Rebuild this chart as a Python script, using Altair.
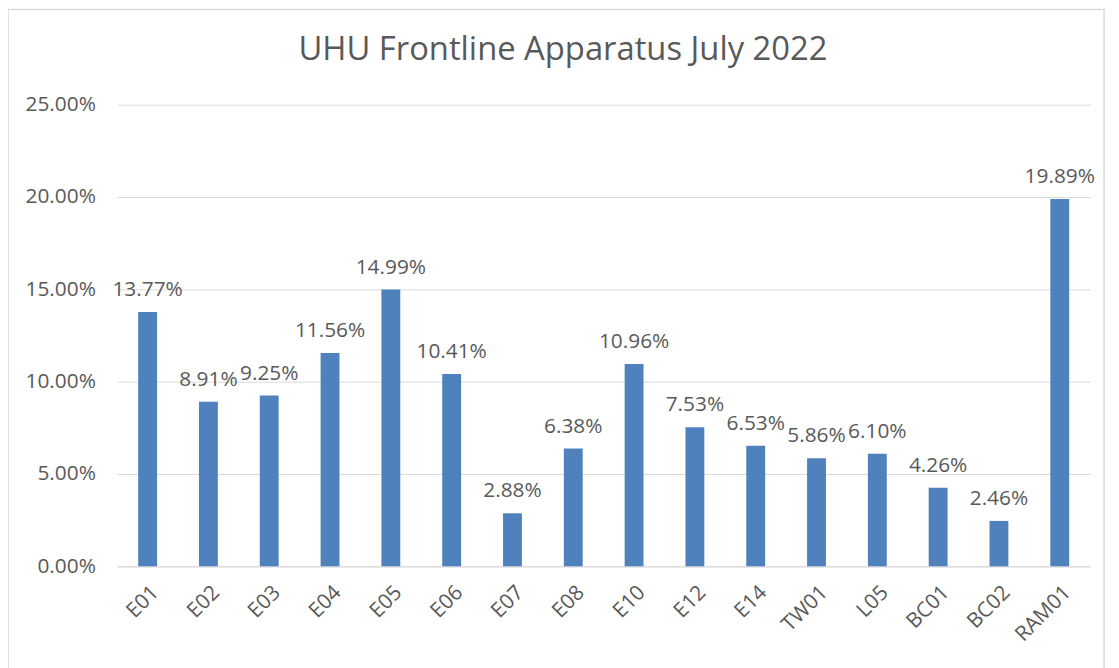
import altair as alt
import pandas as pd

categories = ["E01", "E02", "E03", "E04", "E05", "E06", "E07", "E08", "E10", "E12",
              "E14", "TW01", "L05", "BC01", "BC02", "RAM01"]
values = [0.1377, 0.0891, 0.0925, 0.1156, 0.1499, 0.1041, 0.0288, 0.0638, 0.1096, 0.0753,
          0.0653, 0.0586, 0.0610, 0.0426, 0.0246, 0.1989]
y_ticks = [0, 0.05, 0.10, 0.15, 0.20, 0.25]
title_text = "UHU Frontline Apparatus July 2022"

df = pd.DataFrame({"cat": categories, "val": values})

FONT = "Open Sans"
TXT = "#595959"
GRID = "#D9D9D9"
BAR = "#4F81BD"

x_enc = alt.X("cat:N", sort=categories, title=None,
              scale=alt.Scale(paddingInner=0, paddingOuter=0),
              axis=alt.Axis(labelAngle=-45, labelFontSize=21, labelColor=TXT, labelFont=FONT,
                            domainColor=GRID, domainWidth=1, ticks=False, labelPadding=23,
                            labelOffset=8, labelAlign="right", labelBaseline="middle"))
y_enc = alt.Y("val:Q", title=None,
              scale=alt.Scale(domain=[0, 0.25], nice=False),
              axis=alt.Axis(values=y_ticks, format=".2%", labelFontSize=21, labelColor=TXT,
                            labelFont=FONT, domain=False, ticks=False, gridColor=GRID,
                            gridWidth=1, labelPadding=22))

base = alt.Chart(df)
bars = base.mark_bar(size=19, color=BAR).encode(x=x_enc, y=y_enc)
labels = base.mark_text(baseline="alphabetic", dy=-16, fontSize=21, font=FONT, color=TXT).encode(
    x=alt.X("cat:N", sort=categories), y="val:Q", text=alt.Text("val:Q", format=".2%"))

one = alt.Data(values=[{}])
border = alt.Chart(one).mark_rect(fill=None, stroke=GRID, strokeWidth=1.5).encode(
    x=alt.value(-110), x2=alt.value(994), y=alt.value(-96), y2=alt.value(620))
title = alt.Chart(one).mark_text(fontSize=33, font=FONT, color=TXT, baseline="alphabetic",
                                 align="center").encode(
    x=alt.value(449), y=alt.value(-45), text=alt.value(title_text))

chart = alt.layer(bars, labels, border, title).properties(
    width=980, height=465,
    autosize="none",
    padding={"left": 110, "top": 95, "right": 21, "bottom": 100},
).configure_view(stroke=None)

chart.save("out.html", embed_options={"renderer": "svg", "actions": False})
